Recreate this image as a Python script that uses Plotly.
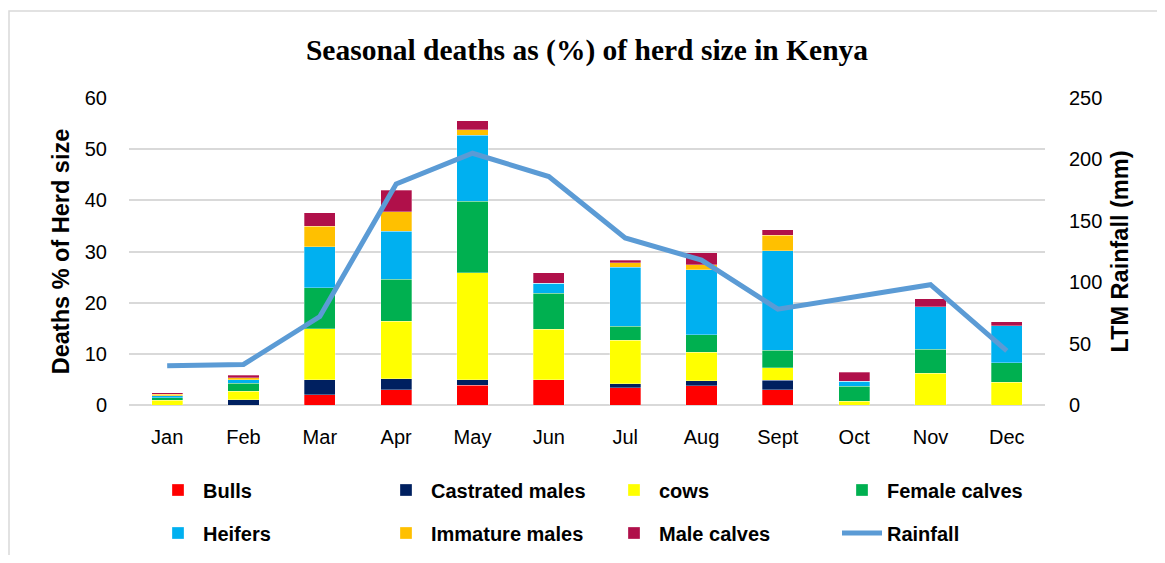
import plotly.graph_objects as go

months = ["Jan", "Feb", "Mar", "Apr", "May", "Jun", "Jul", "Aug", "Sept", "Oct", "Nov", "Dec"]

bulls          = [0.0, 0.0, 2.0, 3.0, 3.9, 4.9, 3.4, 3.8, 3.0, 0.0, 0.0, 0.0]
castrated      = [0.0, 1.0, 2.9, 2.1, 1.0, 0.0, 0.8, 0.9, 1.8, 0.0, 0.0, 0.0]
cows           = [0.9, 1.7, 10.0, 11.3, 20.9, 9.9, 8.5, 5.6, 2.5, 0.7, 6.2, 4.4]
female_calves  = [0.5, 1.6, 8.0, 8.2, 14.0, 7.0, 2.7, 3.4, 3.4, 3.0, 4.7, 3.9]
heifers        = [0.4, 0.6, 8.0, 9.4, 12.9, 2.0, 11.5, 12.7, 19.4, 0.9, 8.3, 7.2]
immature_males = [0.3, 0.4, 4.0, 3.8, 1.1, 0.0, 0.9, 1.0, 3.1, 0.0, 0.0, 0.0]
male_calves    = [0.3, 0.5, 2.7, 4.2, 1.8, 2.0, 0.5, 2.4, 1.1, 1.8, 1.6, 0.8]

rainfall = [32, 33, 72, 180, 205, 186, 136, 118, 78, 88, 98, 44]

series = [
    ("Bulls", bulls, "#FF0000", "legend"),
    ("Castrated males", castrated, "#002060", "legend"),
    ("cows", cows, "#FFFF00", "legend"),
    ("Female calves", female_calves, "#00B050", "legend"),
    ("Heifers", heifers, "#00B0F0", "legend2"),
    ("Immature males", immature_males, "#FFC000", "legend2"),
    ("Male calves", male_calves, "#B0104A", "legend2"),
]

fig = go.Figure()
for name, vals, color, lg in series:
    fig.add_trace(go.Bar(
        x=months, y=vals, name=name, legend=lg,
        marker=dict(color=color, line=dict(color="rgba(255,255,255,0.6)", width=0.5)),
    ))

fig.add_trace(go.Scatter(
    x=months, y=rainfall, name="Rainfall", yaxis="y2", legend="legend2",
    mode="lines", line=dict(color="#5B9BD5", width=5),
))

W, H = 1149, 547

tickfont = dict(family="Liberation Sans", size=20, color="#000000")
legfont = dict(family="Liberation Sans", size=20, color="#000000", weight="bold")
axtitlefont = dict(family="Liberation Sans", size=23.5, color="#000000")

legend_common = dict(
    orientation="h", xref="container", yref="container",
    x=145 / W, xanchor="left", yanchor="middle",
    font=legfont, bgcolor="rgba(0,0,0,0)", traceorder="normal",
    entrywidth=173, entrywidthmode="pixels", itemwidth=40,
)

fig.update_layout(
    width=W, height=H,
    margin=dict(l=121, r=112, t=90, b=150, autoexpand=False),
    paper_bgcolor="white", plot_bgcolor="white",
    barmode="stack", bargap=0.59,
    title=dict(
        text="<b>Seasonal deaths as (%) of herd size in Kenya</b>",
        font=dict(family="Liberation Serif", size=29.5, color="#000000"),
        x=0.5, xanchor="center", y=1 - 42 / H, yanchor="middle",
        xref="paper", yref="container",
    ),
    xaxis=dict(
        tickfont=tickfont, showgrid=False, showline=False, ticks="",
        ticklabelstandoff=18, automargin=False,
    ),
    yaxis=dict(
        range=[0, 60], dtick=10, tickfont=tickfont,
        showgrid=True, gridcolor="#D9D9D9", gridwidth=1.5,
        zeroline=True, zerolinecolor="#D9D9D9", zerolinewidth=1.5,
        ticklabelstandoff=21, automargin=False,
        title=dict(text="<b>Deaths % of Herd size</b>", font=axtitlefont, standoff=8),
    ),
    yaxis2=dict(
        range=[0, 250], dtick=50, overlaying="y", side="right",
        tickfont=tickfont, showgrid=False, zeroline=False,
        ticklabelstandoff=23, automargin=False,
        title=dict(text="<b>LTM Rainfall (mm)</b>", font=axtitlefont, standoff=10),
    ),
    legend=dict(y=(H - 482) / H, **legend_common),
    legend2=dict(y=(H - 525) / H, **legend_common),
    showlegend=True,
    shapes=[dict(
        type="rect", xref="paper", yref="paper",
        x0=(1 - 121) / 916, x1=1.4, y0=-0.8, y1=(397 - 3) / 307,
        line=dict(color="#D9D9D9", width=1.5), fillcolor="rgba(0,0,0,0)",
        layer="below",
    )],
)

fig.write_html("out.html")
